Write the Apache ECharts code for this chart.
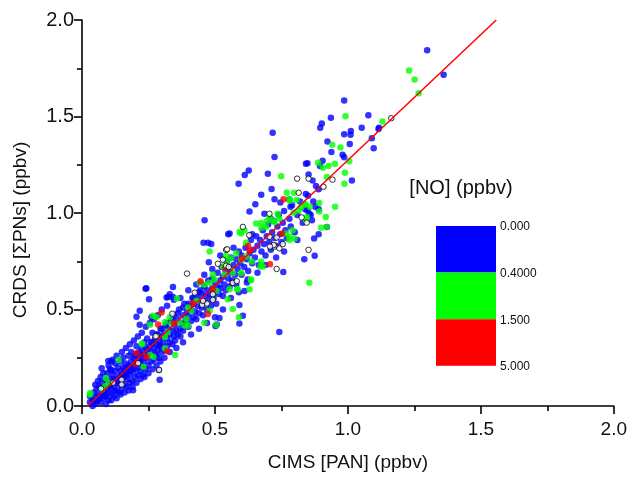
<!DOCTYPE html>
<html><head><meta charset="utf-8">
<script src="https://cdn.jsdelivr.net/npm/echarts@6/dist/echarts.min.js"></script>
<style>html,body{margin:0;padding:0;background:#fff}#c{width:630px;height:477px}</style>
</head><body><div id="c"></div>
<script>
const xTickLabels = ['0.0','0.5','1.0','1.5','2.0'];
const yTickLabels = ['0.0','0.5','1.0','1.5','2.0'];
const xTitle = 'CIMS [PAN] (ppbv)';
const yTitle = 'CRDS [\u03A3PNs] (ppbv)';
const legendTitle = '[NO] (ppbv)';
const noBinLabels = ['0.000','0.4000','1.500','5.000'];
const noBinColors = ['#0000ff','#00ff00','#ff0000'];
const fitLine = [[0.021,0],[1.558,2.0]];

// NO 0.000-0.400 ppbv
const blueNO = [
[0.03,0.02],[0.03,0.05],[0.04,0.00],[0.04,0.03],[0.045,0.07],[0.05,0.01],[0.05,0.045],[0.055,0.09],[0.06,0.03],[0.06,0.06],
[0.065,0.10],[0.07,0.02],[0.07,0.05],[0.075,0.08],[0.075,0.12],[0.08,0.04],[0.08,0.065],[0.085,0.10],[0.085,0.14],[0.09,0.05],
[0.09,0.085],[0.095,0.12],[0.095,0.17],[0.10,0.03],[0.10,0.07],[0.10,0.10],[0.105,0.14],[0.105,0.19],[0.11,0.06],[0.11,0.09],
[0.115,0.12],[0.115,0.16],[0.12,0.05],[0.12,0.10],[0.12,0.14],[0.125,0.18],[0.125,0.22],[0.13,0.08],[0.13,0.12],[0.135,0.15],
[0.135,0.20],[0.14,0.07],[0.14,0.11],[0.14,0.14],[0.145,0.18],[0.145,0.23],[0.15,0.09],[0.15,0.13],[0.15,0.165],[0.155,0.20],
[0.155,0.25],[0.16,0.11],[0.16,0.15],[0.165,0.18],[0.165,0.22],[0.17,0.10],[0.17,0.14],[0.17,0.17],[0.175,0.21],[0.175,0.26],
[0.18,0.12],[0.18,0.16],[0.185,0.19],[0.185,0.23],[0.185,0.28],[0.19,0.13],[0.19,0.18],[0.195,0.21],[0.195,0.25],[0.20,0.15],
[0.20,0.19],[0.20,0.22],[0.205,0.27],[0.205,0.31],[0.21,0.16],[0.21,0.20],[0.215,0.24],[0.215,0.28],[0.22,0.18],[0.22,0.22],
[0.225,0.25],[0.225,0.30],[0.23,0.16],[0.23,0.20],[0.235,0.23],[0.235,0.27],[0.235,0.33],[0.24,0.19],[0.24,0.25],[0.245,0.29],
[0.245,0.35],[0.25,0.21],[0.25,0.26],[0.255,0.31],[0.26,0.23],[0.26,0.28],[0.265,0.33],[0.265,0.38],[0.27,0.24],[0.27,0.30],
[0.275,0.27],[0.275,0.35],[0.28,0.26],[0.28,0.32],[0.285,0.29],[0.285,0.37],[0.29,0.25],[0.29,0.34],[0.295,0.31],[0.295,0.40],
[0.30,0.28],[0.30,0.36],
[0.05,0.11],[0.06,0.13],[0.07,0.15],[0.08,0.17],[0.09,0.01],[0.10,0.21],[0.11,0.03],[0.115,0.24],[0.13,0.04],[0.13,0.26],
[0.145,0.06],[0.15,0.28],[0.16,0.07],[0.165,0.30],[0.175,0.08],[0.18,0.32],[0.19,0.10],[0.195,0.34],[0.205,0.12],[0.21,0.36],
[0.22,0.14],[0.225,0.38],[0.235,0.15],[0.24,0.41],[0.25,0.17],[0.255,0.43],[0.265,0.19],[0.27,0.45],[0.28,0.21],[0.285,0.47],
[0.295,0.23],[0.30,0.50],[0.31,0.25],[0.32,0.52],[0.33,0.28],[0.345,0.55],[0.355,0.30],[0.37,0.56],[0.38,0.33],[0.40,0.60],
[0.41,0.37],[0.43,0.63],[0.44,0.40],[0.46,0.68],[0.47,0.43],[0.49,0.71],[0.50,0.46],[0.52,0.78],[0.53,0.50],[0.56,0.56],
[0.57,0.82],[0.59,0.59],[0.62,0.64],[0.64,0.89],[0.66,0.69],[0.69,0.73],[0.71,0.97],[0.73,0.77],[0.76,0.80],[0.78,1.07],[0.81,0.86],
[0.055,0.025],[0.065,0.04],[0.085,0.07],[0.105,0.11],[0.125,0.13],[0.145,0.15],[0.16,0.19],[0.18,0.20],[0.20,0.26],[0.22,0.27],
[0.24,0.30],[0.26,0.33],[0.28,0.37],[0.30,0.40],[0.32,0.43],[0.34,0.45],[0.36,0.48],[0.38,0.51],[0.40,0.53],[0.42,0.56],[0.44,0.59],
[0.242,0.610],[0.252,0.553],[0.205,0.463],[0.217,0.421],[0.111,0.230],[0.074,0.196],[0.292,0.136],[0.192,0.082],[0.289,0.187],
[0.239,0.608],[0.099,0.233],[0.124,0.077],[0.342,0.616],[0.217,0.494],[0.261,0.460],[0.318,0.562],[0.330,0.579],[0.292,0.315],
[0.111,0.187],[0.155,0.153],[0.086,0.051],[0.042,0.026],[0.324,0.565],[0.342,0.565],
[0.305,0.33],[0.31,0.29],[0.31,0.38],[0.315,0.42],[0.32,0.31],[0.32,0.35],[0.325,0.40],[0.33,0.33],[0.33,0.37],[0.335,0.44],
[0.34,0.32],[0.34,0.39],[0.345,0.36],[0.345,0.47],[0.35,0.34],[0.35,0.42],[0.355,0.39],[0.36,0.37],[0.36,0.45],[0.365,0.50],
[0.37,0.40],[0.37,0.36],[0.375,0.43],[0.38,0.47],[0.38,0.39],[0.385,0.53],[0.39,0.42],[0.39,0.45],[0.395,0.49],[0.40,0.41],
[0.40,0.47],[0.405,0.52],[0.41,0.44],[0.41,0.50],[0.415,0.56],[0.42,0.46],[0.42,0.53],[0.425,0.49],[0.43,0.45],[0.43,0.57],
[0.435,0.52],[0.44,0.48],[0.44,0.55],[0.445,0.60],[0.45,0.51],[0.45,0.58],[0.455,0.47],[0.46,0.54],[0.46,0.62],[0.465,0.57],
[0.47,0.50],[0.47,0.60],[0.475,0.65],[0.48,0.55],[0.48,0.58],[0.485,0.52],[0.49,0.61],[0.49,0.66],[0.495,0.56],[0.50,0.59],
[0.50,0.64],[0.505,0.53],[0.51,0.62],[0.51,0.69],[0.515,0.58],[0.52,0.65],[0.52,0.61],[0.525,0.72],[0.53,0.57],[0.53,0.67],
[0.535,0.63],[0.54,0.70],[0.54,0.60],[0.545,0.75],[0.55,0.66],[0.55,0.72],[0.555,0.62],[0.56,0.69],[0.56,0.77],[0.565,0.65],
[0.57,0.73],[0.575,0.68],[0.58,0.76],[0.58,0.63],[0.585,0.71],[0.59,0.80],[0.595,0.74],[0.60,0.68],[0.60,0.78],
[0.477,0.745],[0.474,0.846],[0.457,0.846],[0.486,0.839],[0.605,0.468],[0.742,0.383],[0.592,0.523],[0.517,0.456],[0.507,0.422],
[0.461,0.963],[0.550,0.890],[0.623,0.656],[0.611,0.596],[0.502,0.414],[0.592,0.427],
[0.61,0.72],[0.615,0.82],[0.62,0.76],[0.625,0.70],[0.63,0.79],[0.635,0.86],[0.64,0.74],[0.645,0.81],[0.65,0.77],[0.655,0.88],
[0.66,0.83],[0.665,0.73],[0.67,0.86],[0.675,0.80],[0.68,0.91],[0.685,0.84],[0.69,0.78],[0.695,0.88],[0.70,0.94],[0.705,0.85],
[0.71,0.81],[0.715,0.90],[0.72,0.96],[0.725,0.87],[0.73,0.83],[0.735,0.93],[0.74,0.99],[0.745,0.89],[0.75,0.85],[0.755,0.95],
[0.76,1.01],[0.765,0.91],[0.77,0.87],[0.78,0.97],[0.785,0.93],[0.79,1.04],[0.80,0.90],[0.81,0.99],[0.82,1.06],[0.83,0.95],
[0.84,1.02],[0.85,1.09],[0.86,0.99],[0.87,1.06],[0.88,1.14],[0.89,1.02],
[1.298,1.843],[1.360,1.716],[1.077,1.506],[1.052,1.442],[1.117,1.442],[0.986,1.583],[0.936,1.493],[0.902,1.464],[0.896,1.442],
[1.011,1.425],[0.986,1.408],[1.010,1.406],[1.115,1.435],[1.090,1.387],[1.097,1.335],[0.923,1.370],[1.007,1.357],[0.938,1.316],
[0.980,1.302],[0.986,1.289],[0.905,1.271],[0.842,1.255],[0.848,1.258],[0.895,1.244],[0.852,1.200],[0.867,1.169],[1.015,1.169],
[0.890,1.123],[0.842,1.098],[0.717,1.416],[0.724,1.290],[0.627,1.220],[0.612,1.197],[0.699,1.203],[0.589,1.152],[0.713,1.125],
[0.674,1.095],[0.652,1.045],[0.724,1.071],[0.746,1.055],[0.784,1.033],[0.877,1.033],[0.630,1.008],[0.686,0.996],[0.848,1.013],
[0.855,0.996],[0.865,0.962],[0.555,0.894],[0.890,0.890],[0.921,0.928],[0.873,0.868],[0.875,0.778],[0.836,0.761],[0.757,0.694]
];
// NO 0.400-1.500 ppbv
const greenNO = [
[1.230,1.738],[1.251,1.692],[1.266,1.621],[1.130,1.474],[0.991,1.501],[0.941,1.353],[0.972,1.340],[1.005,1.268],[0.888,1.260],
[0.906,1.234],[0.927,1.244],[0.951,1.255],[0.989,1.209],[0.921,1.187],[0.987,1.151],[0.770,1.105],[0.797,1.105],[0.749,1.190],
[0.782,1.064],[0.807,1.067],[0.705,0.979],[0.717,0.962],[0.736,0.996],[0.742,0.970],[0.796,1.001],[0.815,1.013],[0.824,1.030],
[0.840,1.044],[0.857,1.033],[0.599,0.894],[0.899,0.924],[0.920,0.928],[0.855,0.638],[0.480,0.800],[0.592,0.902],[0.617,0.846],
[0.780,0.860],[0.635,0.652],[0.505,0.421],[0.460,0.431],[0.350,0.264],[0.280,0.460],[0.357,0.557],[0.030,0.060],[0.089,0.145],
[0.226,0.320],[0.399,0.417],[0.680,0.723],[0.584,0.605],[0.638,0.749],[0.892,1.052],[0.892,1.008],[0.952,1.033],[0.836,1.047],
[0.780,1.072],[0.655,0.945],[0.674,0.948],[0.695,0.958],[0.724,0.953],[0.674,0.923],[0.692,0.928],[0.611,0.911],[0.792,0.911],
[0.780,0.877],[0.799,0.868],[0.767,0.894],[0.842,0.962],[0.846,0.979],[0.542,0.778],[0.561,0.766],[0.580,0.791],[0.599,0.758],
[0.530,0.723],[0.536,0.681],[0.567,0.689],[0.599,0.689],[0.636,0.656],[0.671,0.723],[0.674,0.749],[0.499,0.656],[0.586,0.605],
[0.555,0.605],[0.480,0.638],[0.630,0.605],[0.917,0.979],[0.540,0.758],[0.548,0.732],[0.617,0.775],[0.492,0.681],[0.442,0.638],
[0.461,0.630],[0.505,0.596],[0.430,0.545],[0.399,0.511],[0.411,0.494],[0.480,0.494],[0.548,0.553],[0.567,0.502],[0.590,0.460],
[0.330,0.460],[0.311,0.434],[0.336,0.426],[0.367,0.434],[0.386,0.417],[0.392,0.451],[0.267,0.468],[0.087,0.102],[0.100,0.119],
[0.075,0.085],[0.031,0.068],[0.138,0.238],[0.231,0.204],[0.256,0.264],[0.269,0.255],[0.225,0.324],[0.312,0.298],[0.322,0.383],
[0.312,0.357],[0.256,0.421]
];
// NO 1.500-5.000 ppbv
const redNO = [
[0.758,1.071],[0.707,0.735],[0.446,0.647],[0.299,0.485],[0.286,0.422],[0.346,0.427],[0.205,0.273],[0.242,0.255],[0.321,0.284],
[0.417,0.533],[0.473,0.477],[0.492,0.605],[0.539,0.715],[0.602,0.766],[0.625,0.829],[0.632,0.805],[0.752,0.894],[0.202,0.218]
];
// NO not available
const noMissing = [
[0.809,1.178],[0.852,1.178],[0.942,1.173],[0.908,1.136],[0.815,1.105],[1.163,1.491],[0.705,0.996],[0.826,0.977],[0.845,0.950],
[0.605,0.928],[0.852,0.809],[0.732,0.710],[0.395,0.686],[0.340,0.478],[0.282,0.363],[0.211,0.222],[0.290,0.187],[0.117,0.121],
[0.149,0.136],[0.072,0.090],[0.511,0.737],[0.542,0.809],[0.277,0.361],[0.424,0.587],[0.452,0.524],[0.492,0.579],[0.546,0.812],
[0.567,0.638],[0.582,0.647],[0.629,0.885],[0.705,0.877],[0.724,0.826],[0.742,0.817],[0.470,0.531],[0.149,0.111],[0.721,0.834],
[0.707,0.826],[0.530,0.758],[0.542,0.727],[0.732,0.873],[0.755,0.839],[0.552,0.720],[0.492,0.550],[0.455,0.545]
];

const fontFam = '"Liberation Sans", Arial, sans-serif';
const chart = echarts.init(document.getElementById('c'), null, {renderer: 'canvas'});

function axisCommon(labels, isX) {
  return {
    type: 'value', min: 0, max: 2, interval: 0.5,
    axisLine: {show: true, onZero: false, lineStyle: {color: '#000', width: 1.6}},
    axisTick: {show: true, inside: false, length: 8, lineStyle: {color: '#000', width: 1.6}},
    minorTick: {show: true, splitNumber: 2, length: 5, lineStyle: {color: '#000', width: 1.6}},
    splitLine: {show: false}, minorSplitLine: {show: false},
    axisLabel: {
      formatter: v => labels[Math.round(v / 0.5)],
      fontSize: isX ? 19 : 20, color: '#111', fontFamily: fontFam, margin: isX ? 14 : 8
    }
  };
}

const legendTop = 226, legendH = 46.6, legendX = 436, legendW = 60;
const graphics = [
  {type: 'text', x: 21, y: 230, rotation: Math.PI / 2, style: {text: yTitle, font: '19px ' + fontFam, fill: '#111', textAlign: 'center', textVerticalAlign: 'middle'}},
  {type: 'text', x: 461, y: 188, style: {text: legendTitle, font: '20px ' + fontFam, fill: '#111', textAlign: 'center', textVerticalAlign: 'middle'}}
];
noBinColors.forEach((c, i) => {
  graphics.push({type: 'rect', shape: {x: legendX, y: legendTop + i * legendH, width: legendW, height: legendH}, style: {fill: c}});
});
noBinLabels.forEach((t, i) => {
  graphics.push({type: 'text', x: 500, y: legendTop + 1 + i * legendH, style: {text: t, font: '12px ' + fontFam, fill: '#111', textAlign: 'left', textVerticalAlign: 'middle'}});
});

const dot = 6.5;
chart.setOption({
  animation: false,
  backgroundColor: '#fff',
  grid: {left: 82, right: 14.5, top: 20, bottom: 65.3, containLabel: false},
  xAxis: Object.assign(axisCommon(xTickLabels, true), {
    name: xTitle, nameLocation: 'middle', nameGap: 47,
    nameTextStyle: {fontSize: 19, color: '#111', fontFamily: fontFam}
  }),
  yAxis: axisCommon(yTickLabels, false),
  series: [
    {type: 'scatter', data: blueNO, symbol: 'circle', symbolSize: dot, itemStyle: {color: noBinColors[0]}},
    {type: 'scatter', data: greenNO, symbol: 'circle', symbolSize: dot, itemStyle: {color: noBinColors[1]}},
    {type: 'scatter', data: redNO, symbol: 'circle', symbolSize: dot, itemStyle: {color: noBinColors[2]}},
    {type: 'scatter', data: noMissing, symbol: 'circle', symbolSize: 5.5, itemStyle: {color: '#fff', borderColor: '#000', borderWidth: 1}},
    {type: 'line', data: fitLine, showSymbol: false, symbol: 'none', clip: true, lineStyle: {color: '#ff0000', width: 1.5}, z: 5}
  ],
  graphic: graphics
});
</script></body></html>
